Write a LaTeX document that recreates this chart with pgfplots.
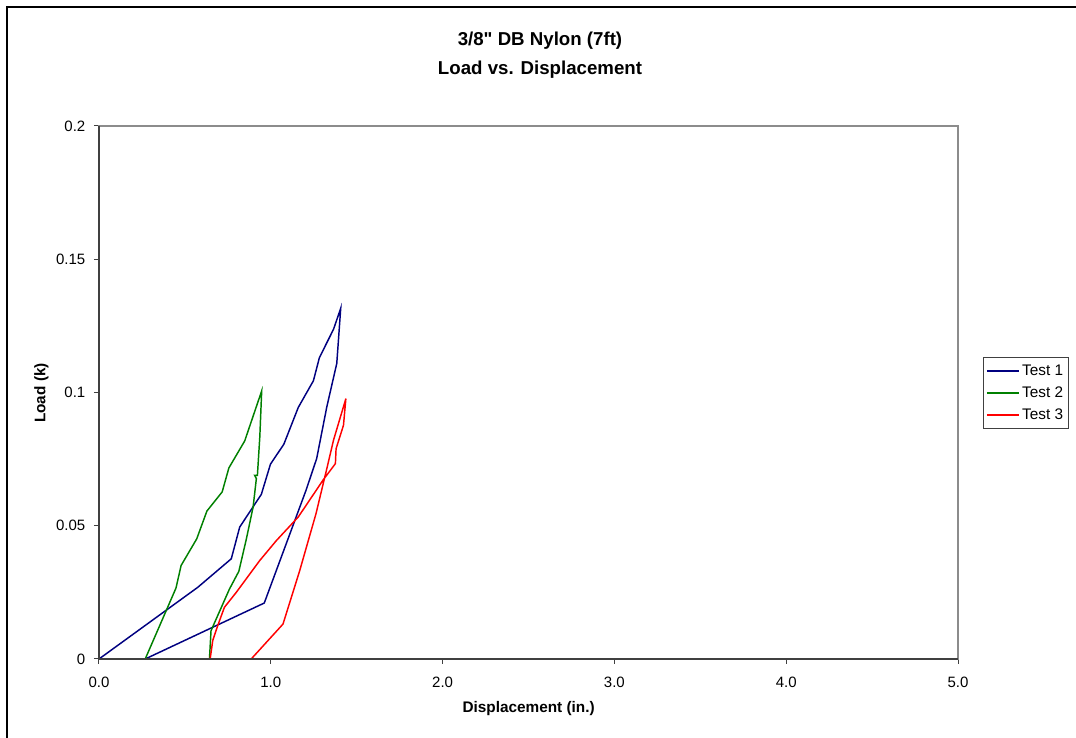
\documentclass[border=0pt]{standalone}
\usepackage{pgfplots}
\pgfplotsset{compat=1.18}
\usepackage{fontspec}
\setmainfont{Liberation Sans}
\newfontfamily\titlefont{Liberation Sans}
\definecolor{tnavy}{RGB}{0,0,128}
\definecolor{tgreen}{RGB}{0,128,0}
\definecolor{tred}{RGB}{255,0,0}
\begin{document}
\begin{tikzpicture}
\path[use as bounding box] (0,0) rectangle (807pt,553.5pt);
\draw[line width=1.5pt] (5.25pt,0) -- (5.25pt,548.25pt) -- (807pt,548.25pt);
\begin{axis}[
  at={(74.25pt,59.25pt)}, anchor=south west,
  scale only axis, width=644.25pt, height=399.75pt,
  xmin=0, xmax=5, ymin=0, ymax=0.2,
  xtick={0,1,2,3,4,5}, ytick={0,0.05,0.1,0.15,0.2},
  xtick pos=bottom, ytick pos=left,
  tick align=outside, major tick length=3.75pt,
  tick style={black!75, line width=0.75pt},
  axis line style={black!45, line width=0.9pt},
  /pgf/number format/assume math mode=true,
  xticklabel style={/pgf/number format/.cd, fixed, fixed zerofill, precision=1, /tikz/.cd, yshift=-6pt},
  yticklabel style={/pgf/number format/.cd, fixed, precision=2, /tikz/.cd, xshift=-3pt},
  ticklabel style={font=\fontsize{11.25}{13}\selectfont},
  scaled y ticks=false,
  clip=false,
  legend style={at={(1.029,0.5666)}, anchor=north west, draw=black!75, line width=0.75pt,
    font=\fontsize{11.5}{13}\selectfont, inner xsep=2pt, inner ysep=2pt, row sep=0pt,
    nodes={inner ysep=3.5pt}},
  legend cell align=left,
  legend image code/.code={\draw[#1, line width=1.1pt] (0pt,0pt) -- (24pt,0pt);},
]
\addplot[tnavy, line width=1.1pt] coordinates {
(0,0) (0.575,0.0269) (0.770,0.0376) (0.819,0.0495) (0.945,0.0618) (0.998,0.0731)
(1.076,0.0806) (1.160,0.0944) (1.248,0.1044) (1.283,0.1131) (1.365,0.1237) (1.407,0.1316)
(1.384,0.1109) (1.326,0.0946) (1.267,0.0752) (1.205,0.0633) (0.962,0.0210) (0.269,0)
};
\addlegendentry{Test 1}
\addplot[tgreen, line width=1.1pt] coordinates {
(0.269,0) (0.448,0.0266) (0.478,0.0351) (0.569,0.0451) (0.628,0.0555) (0.717,0.0627)
(0.756,0.0717) (0.848,0.0818) (0.947,0.1006) (0.936,0.0833) (0.922,0.0689) (0.906,0.0689)
(0.916,0.0677) (0.897,0.0570) (0.858,0.0451) (0.814,0.0329) (0.759,0.0262) (0.678,0.0144)
(0.652,0.0106) (0.643,0)
};
\addlegendentry{Test 2}
\addplot[tred, line width=1.1pt] coordinates {
(0.647,0) (0.662,0.0069) (0.691,0.0125) (0.730,0.0194) (0.799,0.0250) (0.935,0.0369)
(1.032,0.0444) (1.160,0.0533) (1.306,0.0673) (1.376,0.0733) (1.380,0.0789) (1.423,0.0877)
(1.437,0.0977) (1.365,0.0821) (1.326,0.0714) (1.263,0.0545) (1.168,0.0331) (1.071,0.0131)
(0.886,0)
};
\addlegendentry{Test 3}
\draw[black!75, line width=0.9pt] (rel axis cs:0,1) -- (rel axis cs:0,0) -- (rel axis cs:1,0);
\end{axis}
\node[font=\titlefont\fontsize{14}{21.75}\selectfont\bfseries, align=center] at (405pt,512pt) {3/8" DB Nylon (7ft)\\Load vs. Displacement};
\node[font=\fontsize{11.5}{14}\selectfont\bfseries] at (396.5pt,22pt) {Displacement (in.)};
\node[font=\fontsize{11.5}{14}\selectfont\bfseries, rotate=90] at (31pt,258.75pt) {Load (k)};
\end{tikzpicture}
\end{document}
